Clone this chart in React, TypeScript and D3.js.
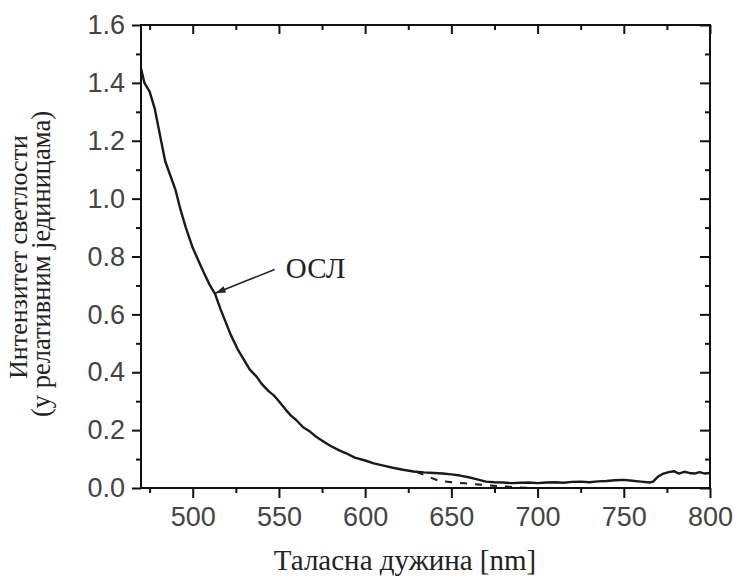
import { useEffect, useRef } from "react";
import * as d3 from "d3";

const W = 736;
const H = 580;
const MARGIN = { top: 25, right: 26, bottom: 92, left: 141 };

// OSL spectrum
const wavelength = [
  470, 472, 475, 478, 481, 484, 487, 490, 493, 496, 500, 503, 506, 510, 513, 516, 519, 522, 526, 530,
  533, 537, 540, 544, 547, 550, 554, 557, 560, 564, 568, 572, 576, 580, 585, 589, 594, 600, 605, 610,
  616, 622, 628, 634, 640, 645, 650, 655, 660, 665, 670, 675, 680, 685, 690, 695, 700, 705, 710, 715,
  720, 725, 730, 735, 740, 745, 750, 755, 760, 765, 767, 770, 773, 776, 779, 782, 785, 788, 791, 794,
  797, 800,
];
const intensity = [
  1.45, 1.4, 1.37, 1.31, 1.22, 1.13, 1.08, 1.03, 0.96, 0.9, 0.83, 0.79, 0.75, 0.7, 0.67, 0.62, 0.575, 0.53, 0.48, 0.44,
  0.41, 0.385, 0.36, 0.335, 0.32, 0.3, 0.27, 0.25, 0.235, 0.21, 0.195, 0.175, 0.16, 0.145, 0.13, 0.12, 0.105, 0.095, 0.085, 0.078,
  0.07, 0.063, 0.057, 0.054, 0.052, 0.05, 0.047, 0.043, 0.037, 0.03, 0.022, 0.02, 0.019, 0.017, 0.018, 0.019, 0.017, 0.019, 0.02, 0.018,
  0.021, 0.022, 0.02, 0.023, 0.024, 0.027, 0.028, 0.025, 0.022, 0.019, 0.022, 0.04, 0.05, 0.055, 0.058, 0.05, 0.056, 0.052, 0.05, 0.055,
  0.05, 0.052,
];

// dashed branch near the baseline
const dashWavelength = [630, 643, 658, 672, 687, 695];
const dashIntensity = [0.055, 0.024, 0.016, 0.009, 0.003, 0.0];

const xMajor = [500, 550, 600, 650, 700, 750, 800];
const xMinor = [475, 525, 575, 625, 675, 725, 775];
const yMajor = [0, 0.2, 0.4, 0.6, 0.8, 1.0, 1.2, 1.4, 1.6];
const yMinor = [0.1, 0.3, 0.5, 0.7, 0.9, 1.1, 1.3, 1.5];

const xTitle = "Таласна дужина [nm]";
const yTitle1 = "Интензитет светлости";
const yTitle2 = "(у релативним јединицама)";
const note = "ОСЛ";

const SERIF = "'Liberation Serif', 'Times New Roman', serif";

export default function App() {
  const ref = useRef<SVGGElement>(null);
  const bw = W - MARGIN.left - MARGIN.right;
  const bh = H - MARGIN.top - MARGIN.bottom;

  const x = d3.scaleLinear().domain([470, 800]).range([0, bw]);
  const y = d3.scaleLinear().domain([0, 1.6]).range([bh, 0]);

  const line = d3
    .line<number>()
    .x((_, i) => x(wavelength[i]))
    .y((d) => y(d));
  const dashLine = d3
    .line<number>()
    .x((_, i) => x(dashWavelength[i]))
    .y((d) => y(d));

  useEffect(() => {
    const g = d3.select(ref.current);
    g.selectAll("*").remove();
    const fmtY = d3.format(".1f");

    const style = (sel: any) => {
      sel.select(".domain").remove();
      sel.selectAll("line").attr("stroke", "#111").attr("stroke-width", 2);
      sel
        .selectAll("text")
        .attr("fill", "#444")
        .style("font-family", "'Liberation Sans', Arial, sans-serif")
        .style("font-size", "27px");
    };

    g.append("g")
      .attr("transform", `translate(0,${bh})`)
      .call(d3.axisBottom(x).tickValues(xMajor).tickSize(10).tickPadding(9).tickFormat(d3.format("d")))
      .call(style);
    g.append("g")
      .attr("transform", `translate(0,${bh})`)
      .call(d3.axisBottom(x).tickValues(xMinor).tickSize(5).tickFormat(() => ""))
      .call(style);
    g.append("g")
      .call(d3.axisTop(x).tickValues(xMajor).tickSize(-9).tickFormat(() => ""))
      .call(style);
    g.append("g")
      .call(d3.axisTop(x).tickValues(xMinor).tickSize(-5).tickFormat(() => ""))
      .call(style);
    g.append("g")
      .call(d3.axisLeft(y).tickValues(yMajor).tickSize(9).tickPadding(7).tickFormat((d: any) => fmtY(d)))
      .call(style);
    g.append("g")
      .call(d3.axisLeft(y).tickValues(yMinor).tickSize(5).tickFormat(() => ""))
      .call(style);
    g.append("g")
      .attr("transform", `translate(${bw},0)`)
      .call(d3.axisRight(y).tickValues(yMajor).tickSize(-10).tickFormat(() => ""))
      .call(style);
    g.append("g")
      .attr("transform", `translate(${bw},0)`)
      .call(d3.axisRight(y).tickValues(yMinor).tickSize(-5).tickFormat(() => ""))
      .call(style);
  }, []);

  const tip = [x(513), y(0.673)];
  const tail = [x(547.5), y(0.755)];
  const ang = Math.atan2(tail[1] - tip[1], tail[0] - tip[0]);
  const ah = 11;
  const aw = 0.32;
  const head = [
    tip,
    [tip[0] + ah * Math.cos(ang + aw), tip[1] + ah * Math.sin(ang + aw)],
    [tip[0] + ah * Math.cos(ang - aw), tip[1] + ah * Math.sin(ang - aw)],
  ];

  return (
    <svg width={W} height={H} style={{ position: "absolute", left: 0, top: 0, background: "#fff" }}>
      <g transform={`translate(${MARGIN.left},${MARGIN.top})`}>
        <path d={line(intensity) || ""} fill="none" stroke="#1a1a1a" strokeWidth={2.4} strokeLinejoin="round" />
        <path d={dashLine(dashIntensity) || ""} fill="none" stroke="#1a1a1a" strokeWidth={2} strokeDasharray="7 8" />
        <rect x={0} y={0} width={bw} height={bh} fill="none" stroke="#111" strokeWidth={2} />
        <g ref={ref} />
        <line x1={tail[0]} y1={tail[1]} x2={tip[0]} y2={tip[1]} stroke="#222" strokeWidth={1.6} />
        <polygon points={head.map((p) => p.join(",")).join(" ")} fill="#222" />
        <text x={x(554)} y={y(0.727)} fontFamily={SERIF} fontSize={29} fill="#222">
          {note}
        </text>
      </g>
      <text x={405} y={570} textAnchor="middle" fontFamily={SERIF} fontSize={29} fill="#222">
        {xTitle}
      </text>
      <g transform={`translate(27,257) rotate(-90)`}>
        <text textAnchor="middle" fontFamily={SERIF} fontSize={26} fill="#222">
          {yTitle1}
        </text>
      </g>
      <g transform={`translate(50,264) rotate(-90)`}>
        <text textAnchor="middle" fontFamily={SERIF} fontSize={26.5} fill="#222">
          {yTitle2}
        </text>
      </g>
    </svg>
  );
}
